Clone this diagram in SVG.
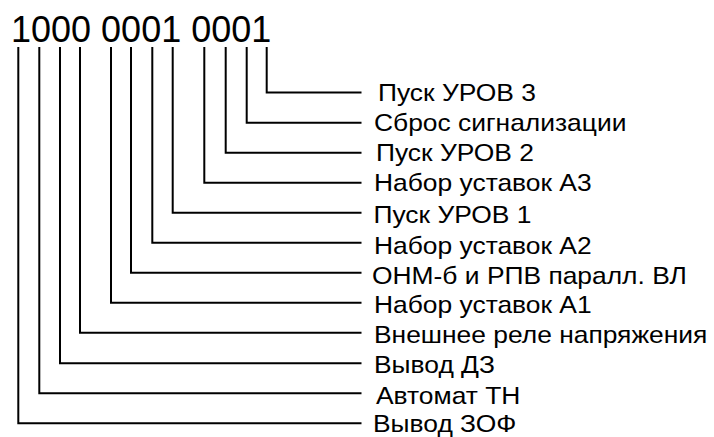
<svg xmlns="http://www.w3.org/2000/svg" width="714" height="437" viewBox="0 0 714 437">
<style>
.t{fill:#000;font-family:"Liberation Sans",Arial,sans-serif}
.lbl{font-size:24px}
.big{font-size:36px}
.c{fill:none;stroke:#000;stroke-width:2}
</style>
<rect width="714" height="437" fill="#fff"/>
<g id="code"><text class="t big" x="11" y="42">1000 0001 0001</text></g>
<g id="connectors">
<polyline class="c" points="266.7,47 266.7,92.5 361.5,92.5"/>
<polyline class="c" points="246.7,47 246.7,122.7 361.5,122.7"/>
<polyline class="c" points="225.7,47 225.7,152.7 361.5,152.7"/>
<polyline class="c" points="204.3,47 204.3,182.7 361.5,182.7"/>
<polyline class="c" points="172.7,47 172.7,212.7 361.5,212.7"/>
<polyline class="c" points="152.3,47 152.3,242.7 361.5,242.7"/>
<polyline class="c" points="131,47 131,272.7 361.5,272.7"/>
<polyline class="c" points="111,47 111,302.7 361.5,302.7"/>
<polyline class="c" points="80,47 80,332.7 361.5,332.7"/>
<polyline class="c" points="60,47 60,363.3 361.5,363.3"/>
<polyline class="c" points="39.3,47 39.3,393.3 361.5,393.3"/>
<polyline class="c" points="18.3,47 18.3,423.3 361.5,423.3"/>
</g>
<g id="n12" transform="translate(378,101.3) scale(1.1,1)"><text class="t lbl">Пуск УРОВ 3</text></g>
<g id="n11" transform="translate(374,130.7) scale(1.1,1)"><text class="t lbl">Сброс сигнализации</text></g>
<g id="n10" transform="translate(376,161.3) scale(1.1,1)"><text class="t lbl">Пуск УРОВ 2</text></g>
<g id="n9" transform="translate(374,191.3) scale(1.1,1)"><text class="t lbl">Набор уставок А3</text></g>
<g id="n8" transform="translate(373.5,223) scale(1.1,1)"><text class="t lbl">Пуск УРОВ 1</text></g>
<g id="n7" transform="translate(374,253.7) scale(1.1,1)"><text class="t lbl">Набор уставок А2</text></g>
<g id="n6" transform="translate(372,284.3) scale(1.1,1)"><text class="t lbl">ОНМ-б и РПВ паралл. ВЛ</text></g>
<g id="n5" transform="translate(374,313.3) scale(1.1,1)"><text class="t lbl">Набор уставок А1</text></g>
<g id="n4" transform="translate(374,343.3) scale(1.1,1)"><text class="t lbl">Внешнее реле напряжения</text></g>
<g id="n3" transform="translate(374,373.3) scale(1.1,1)"><text class="t lbl">Вывод ДЗ</text></g>
<g id="n2" transform="translate(376,403.5) scale(1.1,1)"><text class="t lbl">Автомат ТН</text></g>
<g id="n1" transform="translate(373,431.5) scale(1.1,1)"><text class="t lbl">Вывод ЗОФ</text></g>
</svg>
